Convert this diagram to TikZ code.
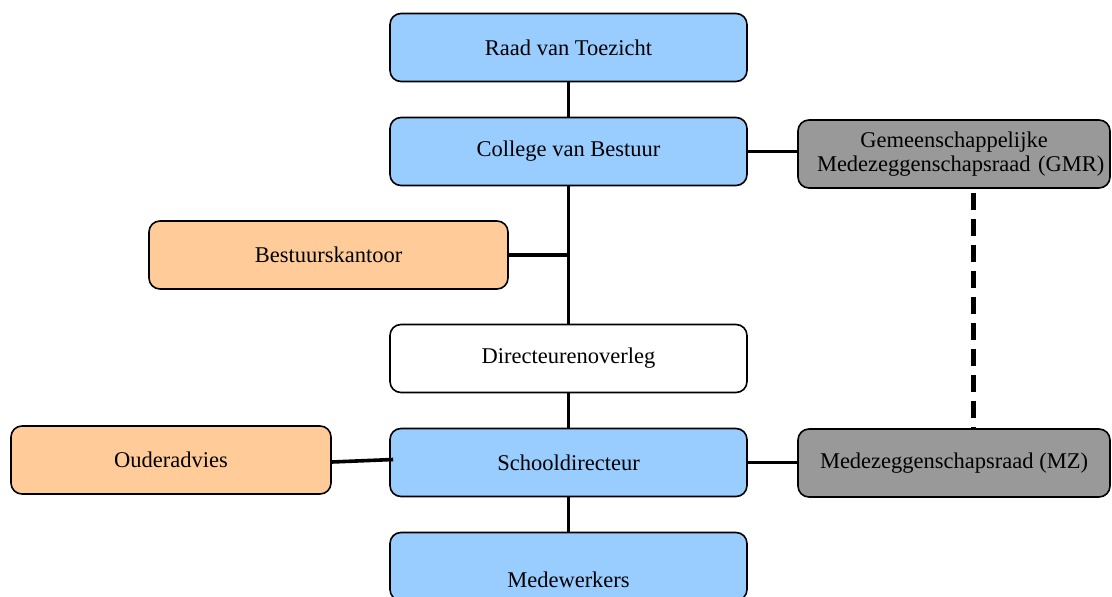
\documentclass[tikz,border=0pt]{standalone}
\usepackage{fontspec}
\setmainfont{Liberation Serif}
\usepackage{tikz}
\usetikzlibrary{positioning, calc}

\definecolor{boxblue}{HTML}{99CCFF}
\definecolor{boxorange}{HTML}{FFCC99}
\definecolor{boxgray}{HTML}{999999}

\begin{document}
\begin{tikzpicture}[
    x=1pt, y=-1pt,
    orgbox/.style={draw, line width=1.6pt, rounded corners=11pt, inner sep=0pt,
        minimum height=68pt, font=\fontsize{22.5}{24}\selectfont},
    mainbox/.style={orgbox, fill=boxblue, minimum width=357pt},
    sidebox/.style={orgbox, fill=boxorange},
    councilbox/.style={orgbox, fill=boxgray, minimum width=312pt},
    link/.style={line width=3.6pt}
]

    \useasboundingbox (0, 0) rectangle (1112, 597);

    % Main column
    \node[mainbox] (raad) at (568.5, 47.5) {Raad van Toezicht};
    \node[mainbox] (college) at (568.5, 151.5) {College van Bestuur};
    \node[mainbox, fill=white] (overleg) at (568.5, 358.5) {Directeurenoverleg};
    \node[mainbox] (school) at (568.5, 462.5) {Schooldirecteur};
    \node[mainbox, text height=45pt, text depth=4pt] (mede) at (568.5, 566.5) {Medewerkers};

    % Side boxes
    \node[sidebox, minimum width=359pt] (bestuur) at (328.5, 255) {Bestuurskantoor};
    \node[sidebox, minimum width=320pt] (ouder) at (171, 460) {Ouderadvies};

    % Participation councils
    \node[councilbox, text width=274pt, align=center] (gmr) at (954, 154)
        {Gemeenschappelijke\\\mbox{Medezeggenschapsraad (GMR)}};
    \node[councilbox] (mz) at (954, 463) {Medezeggenschapsraad (MZ)};

    % Connectors
    \draw[link] (raad.south) -- (college.north);
    \draw[link] (college.south) -- (overleg.north);
    \draw[link] (overleg.south) -- (school.north);
    \draw[link] (school.south) -- (mede.north);
    \draw[link] (bestuur.east) -- (bestuur.east -| college.south);
    \draw[link] (college.east) -- (college.east -| gmr.west);
    \draw[link] (school.east) -- (school.east -| mz.west);
    \draw[link] ([yshift=-2pt]ouder.east) -- ([xshift=4pt, yshift=3pt]school.west);
    \draw[line width=5pt, dash pattern=on 17pt off 9pt, dash phase=22pt]
        ([xshift=19pt]gmr.south) -- ([xshift=19pt]mz.north);

\end{tikzpicture}
\end{document}
